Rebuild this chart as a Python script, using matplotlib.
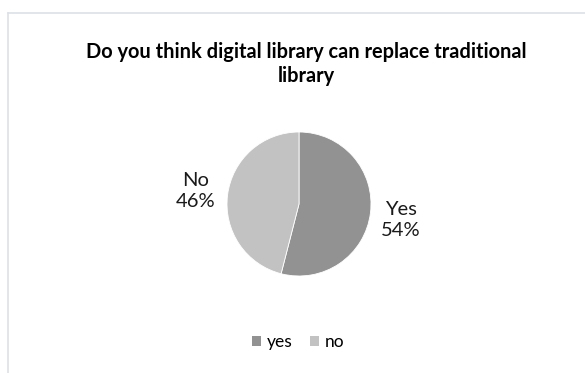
import matplotlib.pyplot as plt
from matplotlib.lines import Line2D
from matplotlib.patches import Patch

labels = ["Yes", "No"]
legend_labels = ["yes", "no"]
values = [54, 46]
colors = ["#929292", "#c2c2c2"]

W, H = 585, 373
fig = plt.figure(figsize=(W / 100, H / 100), dpi=100)
plt.rcParams['font.family'] = ['Lato', 'DejaVu Sans']

# light frame (top and left edges only visible)
fig.add_artist(Line2D([7.5 / W, 7.5 / W], [0, 1 - 12.5 / H], color="#dde1e6", lw=1.2))
fig.add_artist(Line2D([7.5 / W, 1], [1 - 12.5 / H, 1 - 12.5 / H], color="#dde1e6", lw=1.2))

# pie: centre (299, 204), radius 72 px
r = 72
ax = fig.add_axes([(299 - r) / W, 1 - (204 + r) / H, 2 * r / W, 2 * r / H])
ax.pie(values, colors=colors, startangle=90, counterclock=False,
       wedgeprops=dict(edgecolor="white", linewidth=0.6))
ax.set_xlim(-1, 1)
ax.set_ylim(-1, 1)
ax.set_aspect("auto")
ax.axis("off")

fig.text(196 / W, 1 - 191 / H, f"{labels[1]}\n{values[1]}%", ha="center", va="center",
         fontsize=14.5, color="#1a1a1a", linespacing=1.3)
fig.text(401 / W, 1 - 220 / H, f"{labels[0]}\n{values[0]}%", ha="center", va="center",
         fontsize=14.5, color="#1a1a1a", linespacing=1.3)

fig.text(306.5 / W, 1 - 64 / H, "Do you think digital library can replace traditional\nlibrary",
         ha="center", va="center", fontsize=14.4, fontweight="bold", color="#000000",
         linespacing=1.3)

handles = [Patch(facecolor=c, edgecolor="none") for c in colors]
fig.legend(handles, legend_labels, loc="center", bbox_to_anchor=(298 / W, 1 - 342 / H),
           ncol=2, frameon=False, fontsize=12.5, handlelength=0.55, handleheight=0.55,
           handletextpad=0.3, columnspacing=1.0)

fig.savefig("out.png", dpi=100)
